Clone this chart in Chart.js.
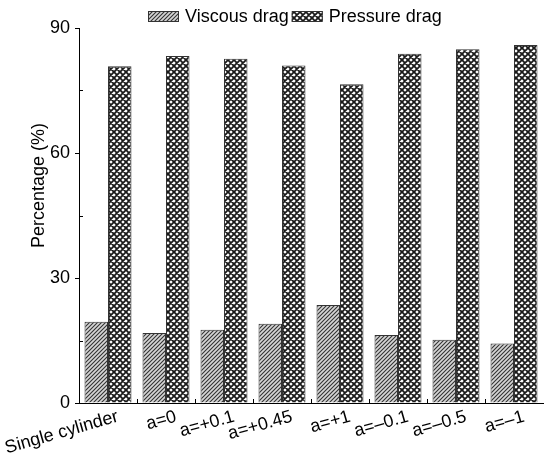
<!DOCTYPE html>
<html>
<head>
<meta charset="utf-8">
<script src="https://cdn.jsdelivr.net/npm/chart.js@4.4.0/dist/chart.umd.min.js"></script>
<style>
html, body { margin: 0; padding: 0; background: #fff; }
#wrap { width: 547px; height: 456px; }
</style>
</head>
<body>
<div id="wrap"><canvas id="dragChart"></canvas></div>
<script>
var categories = ['Single cylinder', 'a=0', 'a=+0.1', 'a=+0.45', 'a=+1', 'a=\u20130.1', 'a=\u20130.5', 'a=\u20131'];
var viscous = [19.5, 16.8, 17.6, 19.0, 23.5, 16.3, 15.2, 14.3];
var pressure = [80.8, 83.3, 82.6, 81.0, 76.5, 83.8, 84.9, 85.9];
var yMajor = [0, 30, 60, 90];
var yMinor = [15, 45, 75];

var FONT = 'Arial, "Liberation Sans", sans-serif';
var FONT_SIZE = 18;

// diagonal "////" fill
function makeHatch() {
	var c = document.createElement('canvas');
	c.width = 4; c.height = 4;
	var g = c.getContext('2d');
	g.fillStyle = '#d6d6d6';
	g.fillRect(0, 0, 4, 4);
	g.strokeStyle = '#333';
	g.lineWidth = 1.1;
	g.beginPath();
	g.moveTo(-1, 5); g.lineTo(5, -1);
	g.moveTo(-1, 1); g.lineTo(1, -1);
	g.moveTo(3, 5); g.lineTo(5, 3);
	g.stroke();
	return g.createPattern(c, 'repeat');
}

// cross-hatch fill
function makeCross() {
	var c = document.createElement('canvas');
	c.width = 6; c.height = 6;
	var g = c.getContext('2d');
	g.fillStyle = '#fff';
	g.fillRect(0, 0, 6, 6);
	g.strokeStyle = '#1a1a1a';
	g.lineWidth = 1.8;
	g.beginPath();
	g.moveTo(-1, -1); g.lineTo(7, 7);
	g.moveTo(7, -1); g.lineTo(-1, 7);
	g.moveTo(5, -1); g.lineTo(7, 1);
	g.moveTo(-1, 5); g.lineTo(1, 7);
	g.moveTo(-1, 1); g.lineTo(1, -1);
	g.moveTo(5, 7); g.lineTo(7, 5);
	g.stroke();
	return g.createPattern(c, 'repeat');
}

var hatch = makeHatch();
var cross = makeCross();

// inward ticks, group separators, axis title and the legend row
var dragDecor = {
	id: 'dragDecor',
	afterDraw: function(chart) {
		var ctx = chart.ctx;
		var xs = chart.scales.x, ys = chart.scales.y;
		var area = chart.chartArea;
		ctx.save();
		ctx.strokeStyle = '#000';
		ctx.lineWidth = 1;
		ctx.beginPath();
		yMinor.forEach(function(v) {
			var py = Math.round(ys.getPixelForValue(v)) + 0.5;
			ctx.moveTo(area.left, py);
			ctx.lineTo(area.left + 4, py);
		});
		for (var i = 1; i < categories.length; i++) {
			var px = Math.round((xs.getPixelForValue(i - 1) + xs.getPixelForValue(i)) / 2) + 0.5;
			ctx.moveTo(px, area.bottom);
			ctx.lineTo(px, area.bottom - 4);
		}
		ctx.stroke();

		// y axis title, sitting a little above the middle
		ctx.save();
		ctx.translate(39, (area.top + area.bottom) / 2 - 30);
		ctx.rotate(-Math.PI / 2);
		ctx.font = FONT_SIZE + 'px ' + FONT;
		ctx.fillStyle = '#000';
		ctx.textAlign = 'center';
		ctx.textBaseline = 'middle';
		ctx.fillText('Percentage (%)', 0, 0);
		ctx.restore();

		// legend
		ctx.font = FONT_SIZE + 'px ' + FONT;
		ctx.textBaseline = 'middle';
		var lx = 148, ly = 11, bw = 31, bh = 11;
		chart.data.datasets.forEach(function(ds) {
			ctx.fillStyle = ds.backgroundColor;
			ctx.fillRect(lx, ly, bw, bh);
			ctx.strokeStyle = '#333';
			ctx.strokeRect(lx + 0.5, ly + 0.5, bw - 1, bh - 1);
			ctx.fillStyle = '#000';
			ctx.fillText(ds.label, lx + bw + 6, ly + bh / 2 + 1);
			lx += bw + 6 + ctx.measureText(ds.label).width + 3;
		});
		ctx.restore();
	}
};

new Chart(document.getElementById('dragChart'), {
	type: 'bar',
	data: {
		labels: categories,
		datasets: [{
			label: 'Viscous drag',
			data: viscous,
			backgroundColor: hatch,
			borderColor: '#333',
			borderWidth: 1
		}, {
			label: 'Pressure drag',
			data: pressure,
			backgroundColor: cross,
			borderColor: '#333',
			borderWidth: 1
		}]
	},
	options: {
		responsive: true,
		maintainAspectRatio: false,
		animation: false,
		layout: { padding: { top: 28, right: 4, left: 0, bottom: 0 } },
		datasets: { bar: { categoryPercentage: 0.81, barPercentage: 1.0 } },
		plugins: {
			legend: { display: false },
			tooltip: { enabled: false }
		},
		scales: {
			x: {
				grid: { display: false },
				border: { display: true, color: '#000', width: 1 },
				ticks: {
					color: '#000',
					font: { family: FONT, size: FONT_SIZE },
					minRotation: 16,
					maxRotation: 16,
					autoSkip: false,
					labelOffset: 10,
					padding: -5
				},
				afterFit: function(scale) {
					scale.height = 53;
					scale.paddingLeft = 0;
					scale.paddingRight = 0;
				}
			},
			y: {
				min: 0,
				max: 90,
				afterBuildTicks: function(scale) {
					scale.ticks = yMajor.map(function(v) { return { value: v }; });
				},
				grid: { drawOnChartArea: false, drawTicks: true, tickLength: 4, color: '#000' },
				border: { display: true, color: '#000', width: 1 },
				ticks: {
					color: '#000',
					font: { family: FONT, size: FONT_SIZE },
					padding: 5
				},
				afterFit: function(scale) {
					scale.width = 79;
				}
			}
		}
	},
	plugins: [dragDecor]
});
</script>
</body>
</html>
